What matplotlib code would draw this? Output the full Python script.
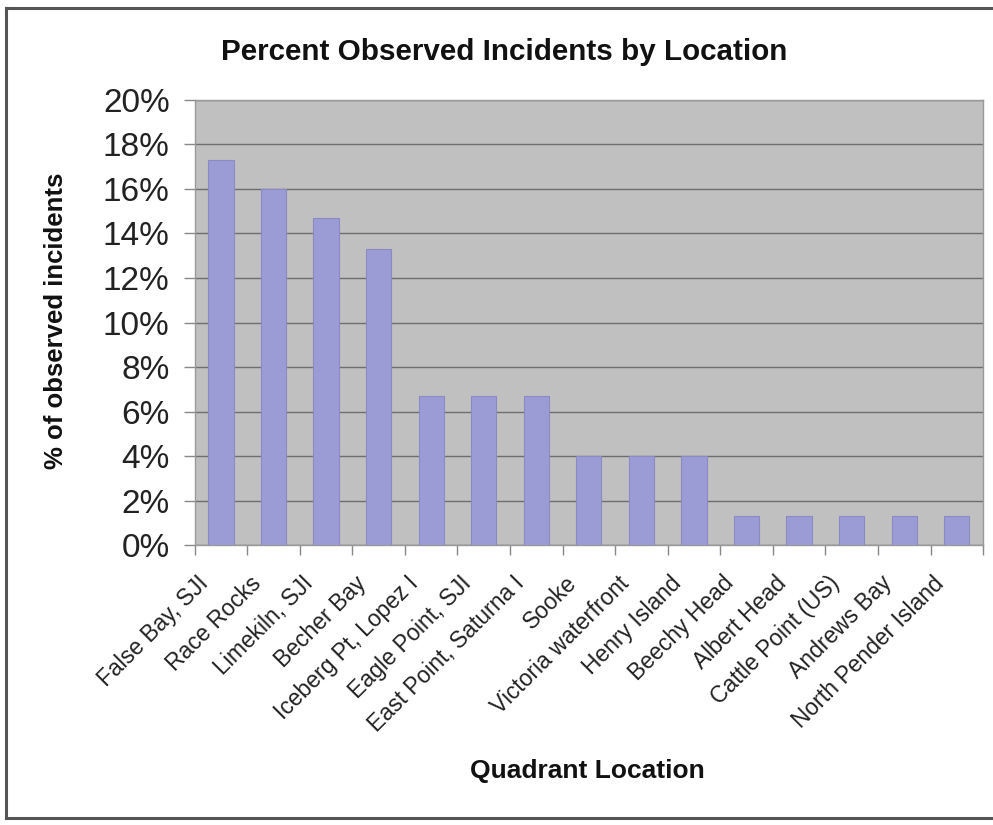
import matplotlib
matplotlib.use("Agg")
import matplotlib.pyplot as plt
import matplotlib.transforms as mtransforms
from matplotlib.lines import Line2D
from matplotlib.ticker import FixedLocator, FuncFormatter

plt.rcParams['font.family'] = ['Liberation Sans', 'DejaVu Sans']

locations = [
    "False Bay, SJI", "Race Rocks", "Limekiln, SJI", "Becher Bay",
    "Iceberg Pt, Lopez I", "Eagle Point, SJI", "East Point, Saturna I",
    "Sooke", "Victoria waterfront", "Henry Island", "Beechy Head",
    "Albert Head", "Cattle Point (US)", "Andrews Bay", "North Pender Island",
]
percent = [17.3, 16.0, 14.7, 13.3, 6.7, 6.7, 6.7, 4.0, 4.0, 4.0,
           1.3, 1.3, 1.3, 1.3, 1.3]
y_ticks = [0, 2, 4, 6, 8, 10, 12, 14, 16, 18, 20]

fig = plt.figure(figsize=(9.93, 8.25), dpi=100)
fig.patch.set_facecolor('white')

# outer chart frame (left, top, bottom edges)
frame_kw = dict(transform=fig.transFigure, color='#555555', linewidth=2.2)
fig.add_artist(Line2D([0.006, 0.006], [0.009, 0.99], **frame_kw))
fig.add_artist(Line2D([0.006, 1.0], [0.99, 0.99], **frame_kw))
fig.add_artist(Line2D([0.006, 1.0], [0.009, 0.009], **frame_kw))

ax = fig.add_axes([0.196, 0.339, 0.794, 0.540])
ax.set_facecolor('#c0c0c0')

x = list(range(len(locations)))
ax.bar(x, percent, width=0.48, color='#9b9bd6', edgecolor='#8a8ac4',
       linewidth=0.8, zorder=3)

ax.set_xlim(-0.5, len(locations) - 0.5)
ax.set_ylim(0, 20)
ax.yaxis.set_major_locator(FixedLocator(y_ticks))
ax.yaxis.set_major_formatter(FuncFormatter(lambda v, p: f"{int(v)}%"))
ax.grid(axis='y', color='#6e6e6e', linewidth=1.0, zorder=1)
ax.set_axisbelow(True)

ax.set_xticks(x)
ax.set_xticklabels(locations, rotation=45, ha='right', rotation_mode='anchor',
                   fontsize=16.5, color='#222222')
ax.tick_params(axis='x', length=0, pad=19)
# nudge the slanted labels so their ends sit just left of each bar
shift = mtransforms.ScaledTranslation(-0.24, 0.0, fig.dpi_scale_trans)
for lbl in ax.get_xticklabels():
    lbl.set_transform(lbl.get_transform() + shift)
# category boundary ticks
ax.set_xticks([i - 0.5 for i in range(len(locations) + 1)], minor=True)
ax.tick_params(axis='x', which='minor', length=7, color='#888888', width=1)
ax.tick_params(axis='y', length=8, color='#888888', width=1, labelsize=24,
               labelcolor='#222222', pad=10)

for s in ax.spines.values():
    s.set_color('#999999')
    s.set_linewidth(1.0)

fig.text(0.508, 0.937, "Percent Observed Incidents by Location", ha='center',
         va='center', fontsize=21.3, fontweight='bold', color='#111111')
fig.text(0.056, 0.611, "% of observed incidents", rotation=90, ha='center',
         va='center', fontsize=18.5, fontweight='bold', color='#111111')
fig.text(0.592, 0.066, "Quadrant Location", ha='center', va='center',
         fontsize=19, fontweight='bold', color='#111111')

fig.savefig("out.png", dpi=100)
